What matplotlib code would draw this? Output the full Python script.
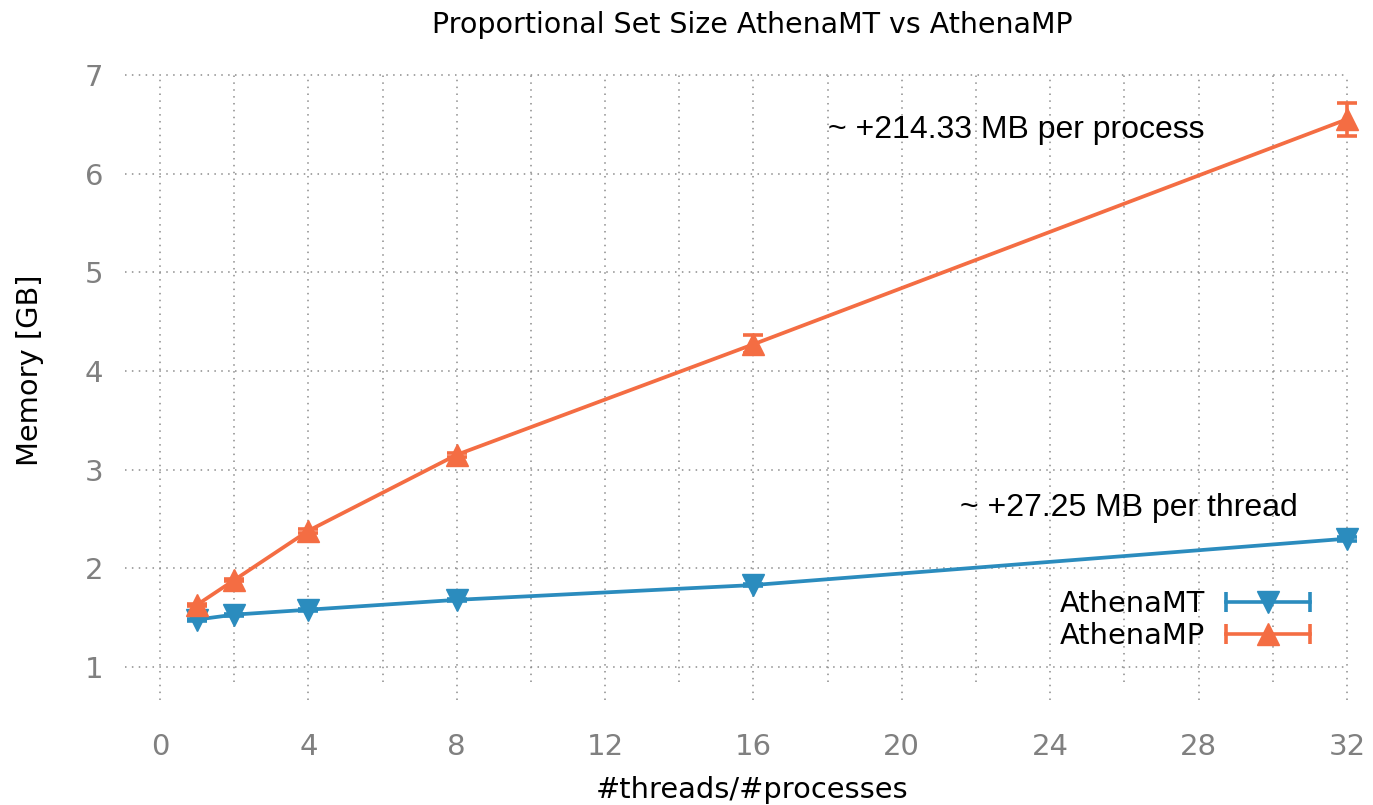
import matplotlib
matplotlib.use("Agg")
import matplotlib.pyplot as plt
from matplotlib.lines import Line2D
from matplotlib.legend_handler import HandlerBase

plt.rcParams["font.family"] = ["DejaVu Sans"]

threads = [1, 2, 4, 8, 16, 32]
mt_mem = [1.48, 1.53, 1.58, 1.68, 1.83, 2.30]
mt_err = [0.01, 0.01, 0.01, 0.01, 0.01, 0.02]
mp_mem = [1.63, 1.88, 2.38, 3.15, 4.27, 6.55]
mp_err = [0.01, 0.01, 0.02, 0.02, 0.09, 0.17]
xticks = [0, 4, 8, 12, 16, 20, 24, 28, 32]
xminor = [2, 6, 10, 14, 18, 22, 26, 30]
yticks = [1, 2, 3, 4, 5, 6, 7]

BLUE = "#2b8cbe"
ORANGE = "#f46d43"
GRIDC = "#8c8c8c"
TICKC = "#808080"

fig = plt.figure(figsize=(13.73, 8.05), dpi=100)
ax = fig.add_axes([0.0895, 0.1286, 0.905, 0.7845])
ax.set_xlim(-1, 32.5)
ax.set_ylim(0.65, 7.05)
for s in ax.spines.values():
    s.set_visible(False)

# grid
gls = dict(color=GRIDC, linestyle=(0, (1, 3.5)), linewidth=1.1, zorder=0)
ax.hlines(yticks, -0.95, 32, **gls)
ax.vlines(xticks, 0.67, 7, **gls)
ax.vlines(xminor, 0.85, 7, **gls)

lw = 2.7
ms = 16
mt = ax.errorbar(threads, mt_mem, yerr=mt_err, color=BLUE, marker="v", ms=ms,
                 lw=lw, capsize=7, capthick=2.6, elinewidth=2.6, zorder=3, clip_on=False)
mp = ax.errorbar(threads, mp_mem, yerr=mp_err, color=ORANGE, marker="^", ms=ms,
                 lw=lw, capsize=7, capthick=2.6, elinewidth=2.6, zorder=4, clip_on=False)

ax.set_xticks(xticks)
ax.set_yticks(yticks)
ax.tick_params(length=0, labelsize=21, labelcolor=TICKC)
ax.tick_params(axis="x", pad=23)
ax.tick_params(axis="y", pad=14)

ax.text(18.0, 6.44, "~ +214.33 MB per process", fontsize=23, family="Liberation Sans",
        va="center", ha="left", color="black")
ax.text(21.56, 2.61, "~ +27.25 MB per thread", fontsize=23, family="Liberation Sans",
        va="center", ha="left", color="black")

fig.text(0.548, 0.969, "Proportional Set Size AthenaMT vs AthenaMP", fontsize=20.5,
         ha="center", va="center")
fig.text(0.548, 0.0186, "#threads/#processes", fontsize=20.8, ha="center", va="center")
fig.text(0.0219, 0.54, "Memory [GB]", fontsize=20.8, ha="center", va="center", rotation=90)


class ErrHandler(HandlerBase):
    def __init__(self, color, marker):
        super().__init__()
        self.color = color
        self.marker = marker

    def create_artists(self, legend, orig_handle, xdescent, ydescent, width, height,
                       fontsize, trans):
        y = height / 2 - ydescent
        x0, x1 = -xdescent, width - xdescent
        line = Line2D([x0, x1], [y, y], color=self.color, lw=2.6)
        caps = Line2D([x0, x1], [y, y], ls="", marker="|", ms=14, mew=2.6, color=self.color)
        mk = Line2D([(x0 + x1) / 2], [y], ls="", marker=self.marker, ms=ms, color=self.color)
        for a in (line, caps, mk):
            a.set_transform(trans)
        return [line, caps, mk]


leg = ax.legend([mt, mp], ["AthenaMT", "AthenaMP"],
                handler_map={mt: ErrHandler(BLUE, "v"), mp: ErrHandler(ORANGE, "^")},
                loc="center right", bbox_to_anchor=(1310 / 1373, (805 - 620) / 805),
                bbox_transform=fig.transFigure, frameon=False, markerfirst=False,
                fontsize=20.8, handlelength=2.9, handletextpad=0.75, labelspacing=0.12,
                borderpad=0, borderaxespad=0)

fig.savefig("out.png", dpi=100)
